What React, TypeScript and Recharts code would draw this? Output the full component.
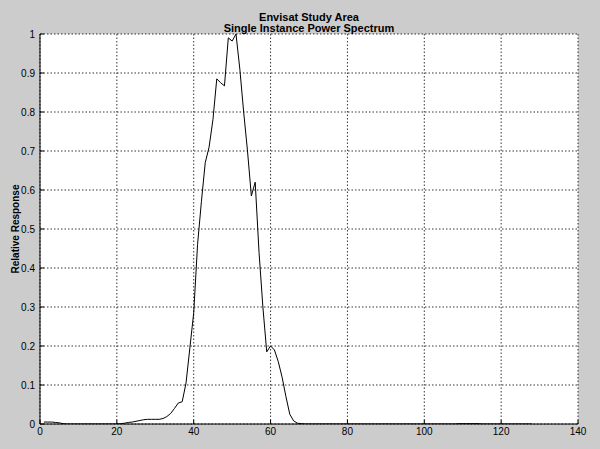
import React from 'react';
import { LineChart, Line, XAxis, YAxis, CartesianGrid } from 'recharts';

const titleLines: string[] = ['Envisat Study Area', 'Single Instance Power Spectrum'];
const yLabel = 'Relative Response';
const xTicks: number[] = [0, 20, 40, 60, 80, 100, 120, 140];
const yTicks: number[] = [0, 0.1, 0.2, 0.3, 0.4, 0.5, 0.6, 0.7, 0.8, 0.9, 1];

const frequency: number[] = [
  1, 2, 3, 4, 5, 6, 7, 8, 9, 10, 11, 12, 13, 14, 15, 16, 17, 18, 19, 20,
  21, 22, 23, 24, 25, 26, 27, 28, 29, 30, 31, 32, 33, 34, 35, 36, 37, 38, 39, 40,
  41, 42, 43, 44, 45, 46, 47, 48, 49, 50, 51, 52, 53, 54, 55, 56, 57, 58, 59, 60,
  61, 62, 63, 64, 65, 66, 67, 68, 69, 70, 71, 72, 73, 74, 75, 76, 77, 78, 79, 80,
  81, 82, 83, 84, 85, 86, 87, 88, 89, 90, 91, 92, 93, 94, 95, 96, 97, 98, 99, 100,
  101, 102, 103, 104, 105, 106, 107, 108, 109, 110, 111, 112, 113, 114, 115, 116, 117, 118, 119, 120,
  121, 122, 123, 124, 125, 126, 127, 128,
];

const response: number[] = [
  0.005, 0.005, 0.005, 0.004, 0.003, 0.001, 0, 0, 0, 0, 0, 0, 0, 0, 0, 0, 0, 0, 0, 0,
  0.001, 0.002, 0.004, 0.005, 0.007, 0.009, 0.011, 0.012, 0.012, 0.012, 0.012, 0.014, 0.019, 0.027, 0.04, 0.054, 0.057, 0.105, 0.195, 0.285,
  0.46, 0.57, 0.67, 0.71, 0.78, 0.885, 0.875, 0.867, 0.99, 0.982, 1.0, 0.91, 0.8, 0.7, 0.585, 0.62, 0.44, 0.3, 0.185, 0.2,
  0.19, 0.16, 0.12, 0.07, 0.025, 0.008, 0.002, 0.001, 0, 0, 0, 0, 0, 0, 0, 0, 0, 0, 0, 0,
  0, 0, 0, 0, 0, 0, 0, 0, 0, 0, 0, 0, 0, 0, 0, 0, 0, 0, 0, 0,
  0, 0, 0, 0, 0, 0, 0, 0, 0.001, 0.001, 0.001, 0.001, 0.001, 0.001, 0, 0, 0, 0, 0, 0,
  0, 0, 0, 0, 0, 0, 0, 0,
];

const data = frequency.map((f, i) => ({ f, r: response[i] }));

const FONT = '"Liberation Sans", Arial, Helvetica, sans-serif';

export default function App() {
  return (
    <div
      style={{
        position: 'absolute',
        left: 0,
        top: 0,
        width: 600,
        height: 449,
        background: '#cccccc',
        fontFamily: FONT,
        overflow: 'hidden',
      }}
    >
      <LineChart
        width={600}
        height={449}
        data={data}
        margin={{ top: 34, right: 22, left: 0, bottom: 0 }}
      >
        <CartesianGrid
          stroke="#000"
          strokeDasharray="1.5 2"
          strokeWidth={0.8}
          fill="#ffffff"
          horizontalValues={yTicks}
          verticalValues={xTicks}
        />
        <XAxis
          dataKey="f"
          type="number"
          domain={[0, 140]}
          ticks={xTicks}
          height={25}
          axisLine={{ stroke: '#000', strokeWidth: 1 }}
          tickLine={{ stroke: '#000' }}
          tickSize={-4}
          tickMargin={8}
          tick={{ fill: '#000', fontSize: 10, fontFamily: FONT }}
          interval={0}
          allowDataOverflow
        />
        <YAxis
          type="number"
          domain={[0, 1]}
          ticks={yTicks}
          width={40}
          axisLine={{ stroke: '#000', strokeWidth: 1 }}
          tickLine={{ stroke: '#000' }}
          tickSize={-4}
          tickMargin={9}
          tick={{ fill: '#000', fontSize: 10, fontFamily: FONT }}
          tickFormatter={(v: number) => String(Math.round(v * 10) / 10)}
          interval={0}
          allowDataOverflow
        />
        <Line
          type="linear"
          dataKey="r"
          stroke="#000"
          strokeWidth={1}
          dot={false}
          activeDot={false}
          isAnimationActive={false}
        />
      </LineChart>
      <div
        style={{
          position: 'absolute',
          left: 40,
          width: 538,
          top: 12,
          textAlign: 'center',
          fontSize: 11,
          fontWeight: 'bold',
          lineHeight: '11px',
          color: '#000',
        }}
      >
        <div>{titleLines[0]}</div>
        <div>{titleLines[1]}</div>
      </div>
      <div
        style={{
          position: 'absolute',
          left: 15,
          top: 229,
          transform: 'translate(-50%, -50%) rotate(-90deg)',
          fontSize: 10,
          fontWeight: 'bold',
          whiteSpace: 'nowrap',
          color: '#000',
        }}
      >
        {yLabel}
      </div>
    </div>
  );
}
